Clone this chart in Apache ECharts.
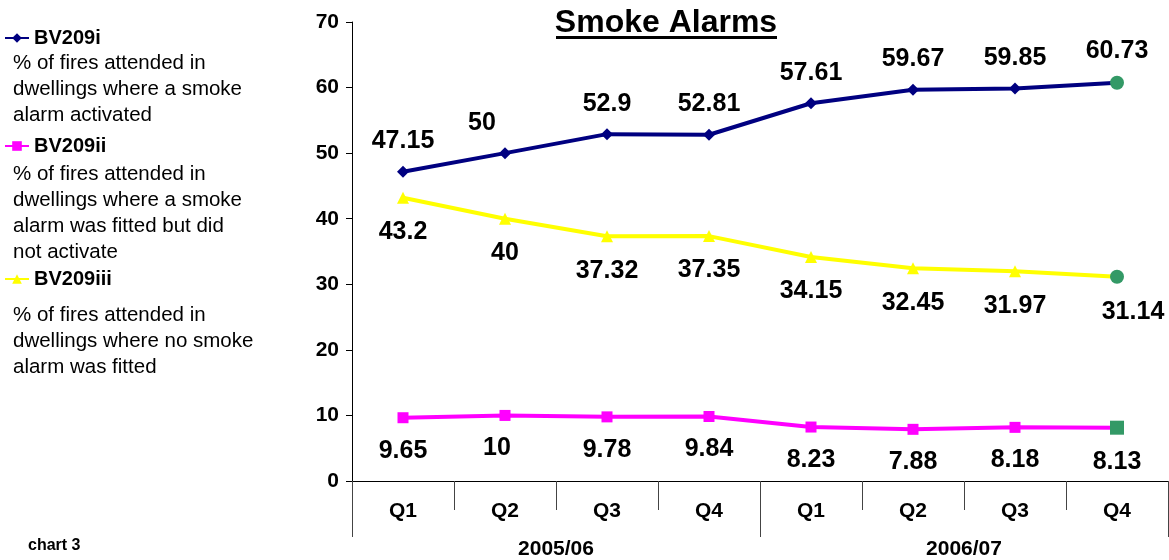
<!DOCTYPE html>
<html>
<head>
<meta charset="utf-8">
<script src="https://cdn.jsdelivr.net/npm/echarts@6/dist/echarts.min.js"></script>
<style>html,body{margin:0;padding:0;background:#fff}#c{width:1169px;height:560px}</style>
</head>
<body>
<div id="c"></div>
<script>
const quarters = ['Q1','Q2','Q3','Q4','Q1','Q2','Q3','Q4'];
const years = ['2005/06','2006/07'];
const yTicks = [0,10,20,30,40,50,60,70];
const seriesNames = ['BV209i','BV209ii','BV209iii'];
const descriptions = [
  '% of fires attended in\ndwellings where a smoke\nalarm activated',
  '% of fires attended in\ndwellings where a smoke\nalarm was fitted but did\nnot activate',
  '% of fires attended in\ndwellings where no smoke\nalarm was fitted'
];
const activated = [47.15, 50, 52.9, 52.81, 57.61, 59.67, 59.85, 60.73];
const fittedNotActivated = [9.65, 10, 9.78, 9.84, 8.23, 7.88, 8.18, 8.13];
const notFitted = [43.2, 40, 37.32, 37.35, 34.15, 32.45, 31.97, 31.14];

const FONT = '"Liberation Sans", Arial, sans-serif';
const GREEN = '#339966';
const labelBase = {fontFamily: FONT, fontWeight: 'bold', fontSize: 25, color: '#000'};
const descStyle = {fontFamily: FONT, fontWeight: 'normal', fontSize: 20.5, lineHeight: 26, color: '#000'};
const legendText = {fontFamily: FONT, fontWeight: 'bold', fontSize: 20, color: '#000'};

function build(values, lastSymbol, lastSize, offsets) {
  return values.map((v, i) => {
    const d = {value: v};
    if (i === values.length - 1) {
      d.symbol = lastSymbol; d.symbolSize = lastSize;
      d.itemStyle = {color: GREEN};
    }
    if (offsets[i]) d.label = {offset: offsets[i]};
    return d;
  });
}

const chart = echarts.init(document.getElementById('c'));
chart.setOption({
  animation: false,
  backgroundColor: '#fff',
  title: [
    {text: 'Smoke Alarms', left: 666, top: 7, padding: 0, textAlign: 'center',
     textStyle: {fontFamily: FONT, fontWeight: 'bold', fontSize: 32, color: '#000'}},
    {text: descriptions[0], left: 13, top: 50, padding: 0, textStyle: descStyle},
    {text: descriptions[1], left: 13, top: 161, padding: 0, textStyle: descStyle},
    {text: descriptions[2], left: 13, top: 302, padding: 0, textStyle: descStyle},
    {text: 'chart 3', left: 28, top: 538, padding: 0,
     textStyle: {fontFamily: FONT, fontWeight: 'bold', fontSize: 16, color: '#000'}}
  ],
  graphic: [
    {type: 'rect', shape: {x: 556, y: 36, width: 221, height: 3}, style: {fill: '#000'}}
  ],
  legend: [
    {data: [seriesNames[0]], left: 4, top: 28, padding: 0, itemWidth: 24, itemHeight: 12,
     textStyle: legendText},
    {data: [seriesNames[1]], left: 4, top: 136, padding: 0, itemWidth: 24, itemHeight: 12,
     textStyle: legendText},
    {data: [seriesNames[2]], left: 4, top: 269, padding: 0, itemWidth: 24, itemHeight: 12,
     textStyle: legendText}
  ],
  grid: {left: 352, right: 1, top: 22, bottom: 79, containLabel: false},
  xAxis: [
    {type: 'category', data: quarters, boundaryGap: true, position: 'bottom',
     axisLine: {show: true, lineStyle: {color: '#000', width: 1}},
     axisTick: {show: true, interval: 0, length: 29, lineStyle: {color: '#444', width: 1}},
     axisLabel: {interval: 0, margin: 20, fontFamily: FONT, fontWeight: 'bold', fontSize: 21, color: '#000'}},
    {type: 'category', data: years, boundaryGap: true, position: 'bottom',
     axisLine: {show: false},
     axisTick: {show: true, interval: 0, length: 56, lineStyle: {color: '#444', width: 1}},
     axisLabel: {interval: 0, margin: 58, fontFamily: FONT, fontWeight: 'bold', fontSize: 21, color: '#000'}}
  ],
  yAxis: {
    type: 'value', min: yTicks[0], max: yTicks[yTicks.length - 1], interval: 10,
    axisLine: {show: true, lineStyle: {color: '#000', width: 1}},
    axisTick: {show: true, length: 6, lineStyle: {color: '#000'}},
    splitLine: {show: false},
    axisLabel: {margin: 13, fontFamily: FONT, fontWeight: 'bold', fontSize: 21, color: '#000'}
  },
  series: [
    {name: seriesNames[0], type: 'line', xAxisIndex: 0,
     data: build(activated, 'circle', 14, {1: [-23, 0]}),
     color: '#000080', symbol: 'diamond', symbolSize: 12,
     lineStyle: {width: 4, color: '#000080'}, itemStyle: {color: '#000080'},
     label: Object.assign({show: true, position: 'top', distance: 12}, labelBase)},
    {name: seriesNames[1], type: 'line', xAxisIndex: 0,
     data: build(fittedNotActivated, 'rect', 14, {1: [-8, 0]}),
     color: '#FF00FF', symbol: 'rect', symbolSize: 11,
     lineStyle: {width: 4, color: '#FF00FF'}, itemStyle: {color: '#FF00FF'},
     label: Object.assign({show: true, position: 'bottom', distance: 15}, labelBase)},
    {name: seriesNames[2], type: 'line', xAxisIndex: 0,
     data: build(notFitted, 'circle', 14, {7: [16, 0]}),
     color: '#FFFF00', symbol: 'triangle', symbolSize: 12,
     lineStyle: {width: 4, color: '#FFFF00'}, itemStyle: {color: '#FFFF00'},
     label: Object.assign({show: true, position: 'bottom', distance: 16}, labelBase)}
  ]
});
</script>
</body>
</html>
